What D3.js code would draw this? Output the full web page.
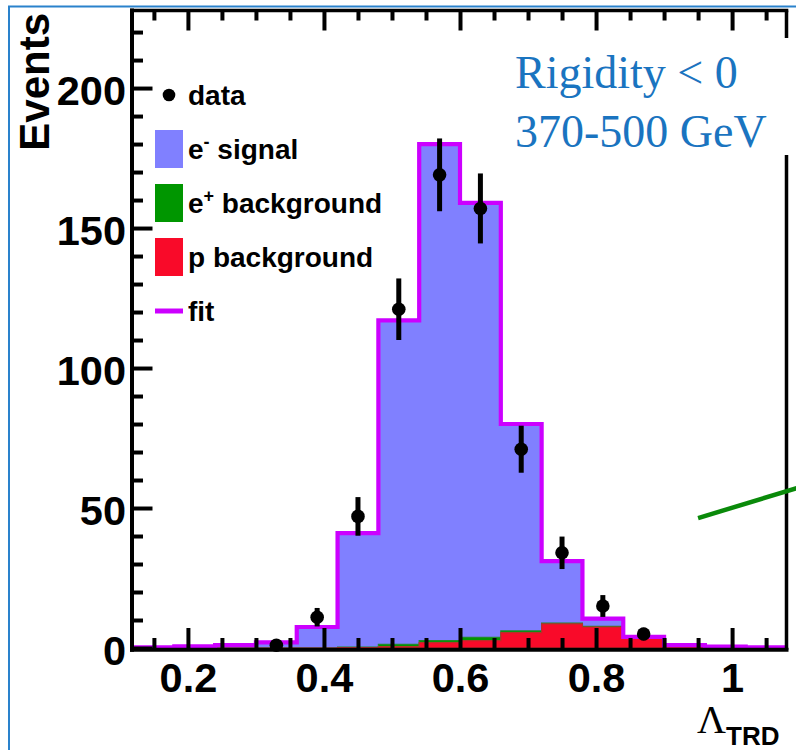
<!DOCTYPE html>
<html>
<head>
<meta charset="utf-8">
<script src="https://cdn.jsdelivr.net/npm/d3@7"></script>
<style>
  html, body { margin: 0; padding: 0; background: #fff; }
  svg { display: block; }
</style>
</head>
<body>
<script>
// ---------------- data ----------------
const binEdges = [0.12, 0.18, 0.24, 0.30, 0.36, 0.42, 0.48, 0.54, 0.60, 0.66, 0.72, 0.78, 0.84, 0.90, 0.96, 1.02, 1.08];
const pBackground    = [0, 0, 0, 0, 0, 0.1, 0.5, 1.9, 2.6, 5.5, 8.6, 7.5, 3.8, 0.8, 0.2, 0.1];
const ePlusBackground = [0, 0, 0, 0, 0, 0.2, 0.8, 0.7, 1.2, 0.6, 0.3, 0.2, 0.1, 0, 0, 0];
const eMinusSignal   = [0.2, 0.6, 1.0, 2.0, 7.5, 40.7, 115.7, 177.4, 155.2, 73.9, 22.1, 2.8, 0.1, 0.2, 0.3, 0.1];

const dataX   = [0.33, 0.39, 0.45, 0.51, 0.57, 0.63, 0.69, 0.75, 0.81, 0.87];
const dataY   = [1, 11, 47, 121, 169, 157, 71, 34, 15, 5];
const dataErr = [1, 3.3, 6.9, 11, 13, 12.5, 8.4, 5.8, 3.9, 2.2];

const xMajorTicks = [0.2, 0.4, 0.6, 0.8, 1.0];
const xMajorLabels = ["0.2", "0.4", "0.6", "0.8", "1"];
const xMinorTicks = [0.15, 0.25, 0.30, 0.35, 0.45, 0.50, 0.55, 0.65, 0.70, 0.75, 0.85, 0.90, 0.95, 1.05];
const yMajorTicks = [0, 50, 100, 150, 200];
const yMinorTicks = [10, 20, 30, 40, 60, 70, 80, 90, 110, 120, 130, 140, 160, 170, 180, 190, 210, 220];

const legendLabels = ["data", "e", "e", "p background", "fit"];
const annotationLineX = [0.95, 1.095];
const annotationLineY = [46.4, 57.1];

// ---------------- layout ----------------
const W = 796, H = 750;
const X0 = 133.5, X1 = 786.5, Y0 = 648, Y1 = 10.5;
const COL = { signal: "#8080ff", ePlus: "#009600", p: "#f90a29", fit: "#cc00ff", blue: "#1a74c0" };
const SANS = "'Liberation Sans', Arial, Helvetica, sans-serif";
const SERIF = "'Liberation Serif', 'Times New Roman', serif";

const svg = d3.select("body").append("svg").attr("width", W).attr("height", H);

const x = d3.scaleLinear().domain([binEdges[0], binEdges[binEdges.length - 1]]).range([X0, X1]);
const y = d3.scaleLinear().domain([0, 227.7]).range([Y0, Y1]);

// outer blue border
svg.append("path").attr("d", `M9,${H} V6.5 H${W}`).attr("fill", "none")
  .attr("stroke", "#2a82cc").attr("stroke-width", 2);

// ---------------- stacked histogram ----------------
const rows = pBackground.map((v, i) => ({ lo: binEdges[i], hi: binEdges[i + 1], p: v, ep: ePlusBackground[i], em: eMinusSignal[i] }));
const stack = d3.stack().keys(["p", "ep", "em"])(rows);

function stepPoints(layer) {
  const pts = [];
  layer.forEach(d => {
    pts.push({ x: d.data.lo, y0: d[0], y1: d[1] });
    pts.push({ x: d.data.hi, y0: d[0], y1: d[1] });
  });
  return pts;
}
const area = d3.area().x(d => x(d.x)).y0(d => y(d.y0)).y1(d => y(d.y1));
const layerColors = { p: COL.p, ep: COL.ePlus, em: COL.signal };

const gHist = svg.append("g");
["em", "ep", "p"].forEach(k => {
  const layer = stack.find(s => s.key === k);
  gHist.append("path").datum(stepPoints(layer)).attr("d", area)
    .attr("fill", layerColors[k])
    .attr("stroke", k === "p" ? "#b8302a" : (k === "ep" ? "#1f8a2a" : "none"))
    .attr("stroke-width", k === "em" ? 0 : 1.2);
});

// fit outline = total of the stack
const stackTop = stack[stack.length - 1];
const fitLine = d3.line().x(d => x(d.x)).y(d => y(d.y1));
svg.append("path").datum(stepPoints(stackTop)).attr("d", fitLine)
  .attr("fill", "none").attr("stroke", COL.fit).attr("stroke-width", 4.2);

// ---------------- frame & axes ----------------
const frame = svg.append("g").attr("stroke", "#000").attr("fill", "none");
frame.append("line").attr("x1", X0 - 3.5).attr("x2", X1 + 2).attr("y1", Y0 + 1.8).attr("y2", Y0 + 1.8).attr("stroke-width", 4);
frame.append("line").attr("x1", X0 - 1.5).attr("x2", X0 - 1.5).attr("y1", Y1 - 2).attr("y2", Y0 + 3.8).attr("stroke-width", 4);
frame.append("line").attr("x1", X0 - 3.5).attr("x2", X1 + 1.8).attr("y1", Y1).attr("y2", Y1).attr("stroke-width", 3.5);
frame.append("line").attr("x1", X1).attr("x2", X1).attr("y1", Y1).attr("y2", Y0 + 2).attr("stroke-width", 3.5);

function styleAxis(g) {
  g.select(".domain").remove();
  g.selectAll(".tick line").attr("stroke", "#000").attr("stroke-width", 4);
}
svg.append("g").attr("transform", `translate(0,${Y0})`)
  .call(d3.axisBottom(x).tickValues(xMinorTicks).tickSize(-10).tickFormat(""))
  .call(styleAxis);
const xMaj = svg.append("g").attr("transform", `translate(0,${Y0})`)
  .call(d3.axisBottom(x).tickValues(xMajorTicks).tickSize(-20).tickFormat((d, i) => xMajorLabels[i]))
  .call(styleAxis);
xMaj.selectAll(".tick text").attr("y", 44).attr("dy", 0).attr("fill", "#000")
  .attr("font-family", SANS).attr("font-weight", "bold").attr("font-size", 41.5);

svg.append("g").attr("transform", `translate(0,${Y1})`)
  .call(d3.axisTop(x).tickValues(xMinorTicks).tickSize(-10).tickFormat(""))
  .call(styleAxis);
svg.append("g").attr("transform", `translate(0,${Y1})`)
  .call(d3.axisTop(x).tickValues(xMajorTicks).tickSize(-20).tickFormat(""))
  .call(styleAxis);

svg.append("g").attr("transform", `translate(${X0},0)`)
  .call(d3.axisLeft(y).tickValues(yMinorTicks).tickSize(-9.5).tickFormat(""))
  .call(styleAxis);
const yMaj = svg.append("g").attr("transform", `translate(${X0},0)`)
  .call(d3.axisLeft(y).tickValues(yMajorTicks).tickSize(-19).tickFormat(d3.format("d")))
  .call(styleAxis);
yMaj.selectAll(".tick text").attr("x", -7.5).attr("dy", 0).attr("y", 16).attr("fill", "#000")
  .attr("text-anchor", "end")
  .attr("font-family", SANS).attr("font-weight", "bold").attr("font-size", 41.5);

// axis titles
svg.append("text").attr("transform", "translate(49,13) rotate(-90)")
  .attr("text-anchor", "end").attr("font-family", SANS).attr("font-weight", "bold")
  .attr("font-size", 42).attr("fill", "#000").text("Events");

const xt = svg.append("text").attr("x", 697).attr("y", 733).attr("fill", "#000");
xt.append("tspan").attr("font-family", SERIF).attr("font-size", 40).text("Λ");
xt.append("tspan").attr("font-family", SANS).attr("font-weight", "bold").attr("font-size", 26)
  .attr("dy", 12).text("TRD");

// ---------------- data points ----------------
const gData = svg.append("g");
dataX.forEach((dx, i) => {
  gData.append("line").attr("x1", x(dx)).attr("x2", x(dx))
    .attr("y1", y(dataY[i] - dataErr[i])).attr("y2", y(dataY[i] + dataErr[i]))
    .attr("stroke", "#000").attr("stroke-width", 5);
  gData.append("circle").attr("cx", x(dx)).attr("cy", y(dataY[i])).attr("r", 6.8).attr("fill", "#000");
});

// annotation line (green, right side)
svg.append("line")
  .attr("x1", x(annotationLineX[0])).attr("y1", y(annotationLineY[0]))
  .attr("x2", x(annotationLineX[1])).attr("y2", y(annotationLineY[1]))
  .attr("stroke", "#0a8a0a").attr("stroke-width", 4.5);

// ---------------- text box ----------------
svg.append("rect").attr("x", 505).attr("y", 38).attr("width", 290).attr("height", 117).attr("fill", "#fff");
svg.append("text").attr("x", 515).attr("y", 88).attr("font-family", SERIF).attr("font-size", 46)
  .attr("fill", COL.blue).text("Rigidity < 0");
svg.append("text").attr("x", 515).attr("y", 147).attr("font-family", SERIF).attr("font-size", 46)
  .attr("fill", COL.blue).text("370-500 GeV");

// ---------------- legend ----------------
const legY = [95, 149, 203, 257, 311];
const lg = svg.append("g").attr("font-family", SANS).attr("font-weight", "bold").attr("font-size", 28).attr("fill", "#000");
lg.append("circle").attr("cx", 169).attr("cy", legY[0]).attr("r", 6.3).attr("fill", "#000");
lg.append("rect").attr("x", 155).attr("y", legY[1] - 19).attr("width", 28).attr("height", 38).attr("fill", COL.signal);
lg.append("rect").attr("x", 155).attr("y", legY[2] - 19).attr("width", 28).attr("height", 38).attr("fill", COL.ePlus);
lg.append("rect").attr("x", 155).attr("y", legY[3] - 19).attr("width", 28).attr("height", 38).attr("fill", COL.p);
lg.append("line").attr("x1", 155).attr("x2", 183).attr("y1", legY[4]).attr("y2", legY[4])
  .attr("stroke", COL.fit).attr("stroke-width", 5);

const tx = 188;
lg.append("text").attr("x", tx).attr("y", legY[0] + 10).text(legendLabels[0]);
const t1 = lg.append("text").attr("x", tx).attr("y", legY[1] + 10);
t1.append("tspan").text(legendLabels[1]);
t1.append("tspan").attr("font-size", 18).attr("dy", -11).text("-");
t1.append("tspan").attr("dy", 11).text(" signal");
const t2 = lg.append("text").attr("x", tx).attr("y", legY[2] + 10);
t2.append("tspan").text(legendLabels[2]);
t2.append("tspan").attr("font-size", 18).attr("dy", -11).text("+");
t2.append("tspan").attr("dy", 11).text(" background");
lg.append("text").attr("x", tx).attr("y", legY[3] + 10).text(legendLabels[3]);
lg.append("text").attr("x", tx).attr("y", legY[4] + 10).text(legendLabels[4]);
</script>
</body>
</html>
